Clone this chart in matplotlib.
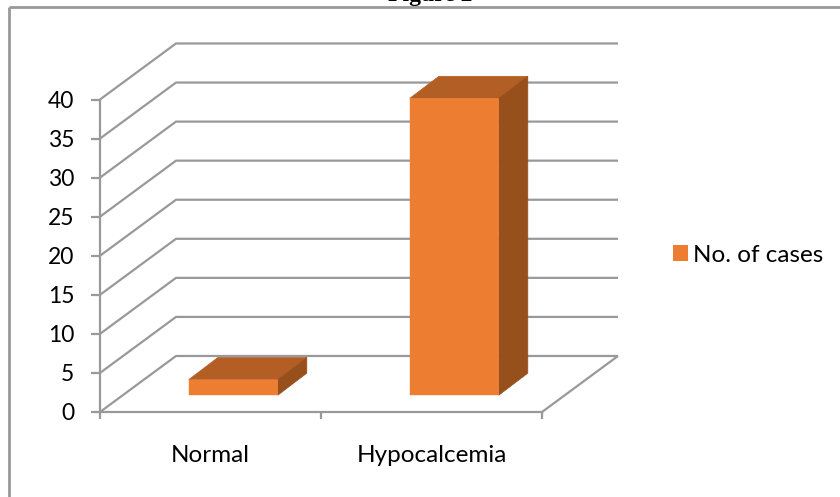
import matplotlib
matplotlib.use("Agg")
import matplotlib.pyplot as plt
from matplotlib.lines import Line2D
from matplotlib.patches import Polygon

categories = ["Normal", "Hypocalcemia"]
cases = [2, 38]
y_ticks = [0, 5, 10, 15, 20, 25, 30, 35, 40]
series_name = "No. of cases"
title = "Figure 2"

W, H = 840, 497
GRID = "#999999"
FRONT = "#ED7D31"
TOP = "#B35E25"
SIDE = "#974F1C"

plt.rcParams["font.family"] = ["Lato", "DejaVu Sans"]

fig = plt.figure(figsize=(W / 100, H / 100), dpi=100)
# plot box in pixels: x 100-542, y 99.5-412
ax = fig.add_axes([100 / W, 1 - 412 / H, 442 / W, 312.5 / H])
ax.set_xlim(0, 2)
ax.set_ylim(0, 40)
ax.patch.set_visible(False)

# depth of the 3d box, in data units
depth_x = 76 / 221
depth_y = 56 / 7.81
# bars sit in the middle of the depth
bar_dx = 0.3 * depth_x
bar_dy = 0.3 * depth_y
bar_w = 89 / 221


def line(xs, ys):
    ax.plot(xs, ys, color=GRID, lw=1.6, clip_on=False, solid_capstyle="butt", zorder=1)


# walls
for t in y_ticks:
    line([0, depth_x, 2 + depth_x], [t, t + depth_y, t + depth_y])
line([2, 2 + depth_x], [0, depth_y])

# bars
centers = [0.5 + bar_dx, 1.5 + bar_dx]
bars = ax.bar(centers, cases, width=bar_w, bottom=bar_dy, color=FRONT, label=series_name,
              zorder=4, clip_on=False)
for b in bars:
    b.set_snap(False)
for x, v in zip(centers, cases):
    left = x - bar_w / 2
    right = x + bar_w / 2
    base = bar_dy
    top = base + v
    dx = 29 / 221
    dy = 22 / 7.81
    ax.add_patch(Polygon([(left, top), (right, top), (right + dx, top + dy), (left + dx, top + dy)],
                         closed=True, fc=TOP, ec=TOP, lw=0.5, clip_on=False, zorder=3))
    ax.add_patch(Polygon([(right, base), (right + dx, base + dy), (right + dx, top + dy), (right, top)],
                         closed=True, fc=SIDE, ec=SIDE, lw=0.5, clip_on=False, zorder=3))

for s in ["top", "right"]:
    ax.spines[s].set_visible(False)
for s in ["left", "bottom"]:
    ax.spines[s].set_color(GRID)
    ax.spines[s].set_linewidth(1.6)

ax.set_yticks(y_ticks)
ax.set_xticks([0, 1, 2])
ax.set_xticklabels([])
ax.set_xticks([0.5, 1.5], minor=True)
ax.set_xticklabels(categories, minor=True)
ax.tick_params(axis="y", length=6.5, width=1.6, color=GRID, labelsize=16.5, pad=12, labelcolor="black")
ax.tick_params(axis="x", which="major", length=5, width=1.6, color=GRID)
ax.tick_params(axis="x", which="minor", length=0, labelsize=17.5, pad=23.5, labelcolor="black")

ax.legend(handles=[bars], loc="center left", bbox_to_anchor=(673 / W, 1 - 255 / H),
          bbox_transform=fig.transFigure, frameon=False, fontsize=17.5, handlelength=0.62,
          handleheight=0.62, handletextpad=0.2, borderpad=0, borderaxespad=0)

# outer chart frame, open at right and bottom of the crop
frame = dict(color=GRID, lw=2, transform=fig.transFigure, solid_capstyle="butt")
fig.add_artist(Line2D([8.5 / W, 8.5 / W], [0, 1 - 7 / H], **frame))
fig.add_artist(Line2D([8.5 / W, 1], [1 - 7 / H, 1 - 7 / H], **frame))

fig.text(430 / W, 1 - 1.5 / H, title, ha="center", va="baseline", fontsize=17,
         fontweight="bold", family="Liberation Serif", color="black")

fig.savefig("out.png", dpi=100, facecolor="white")
